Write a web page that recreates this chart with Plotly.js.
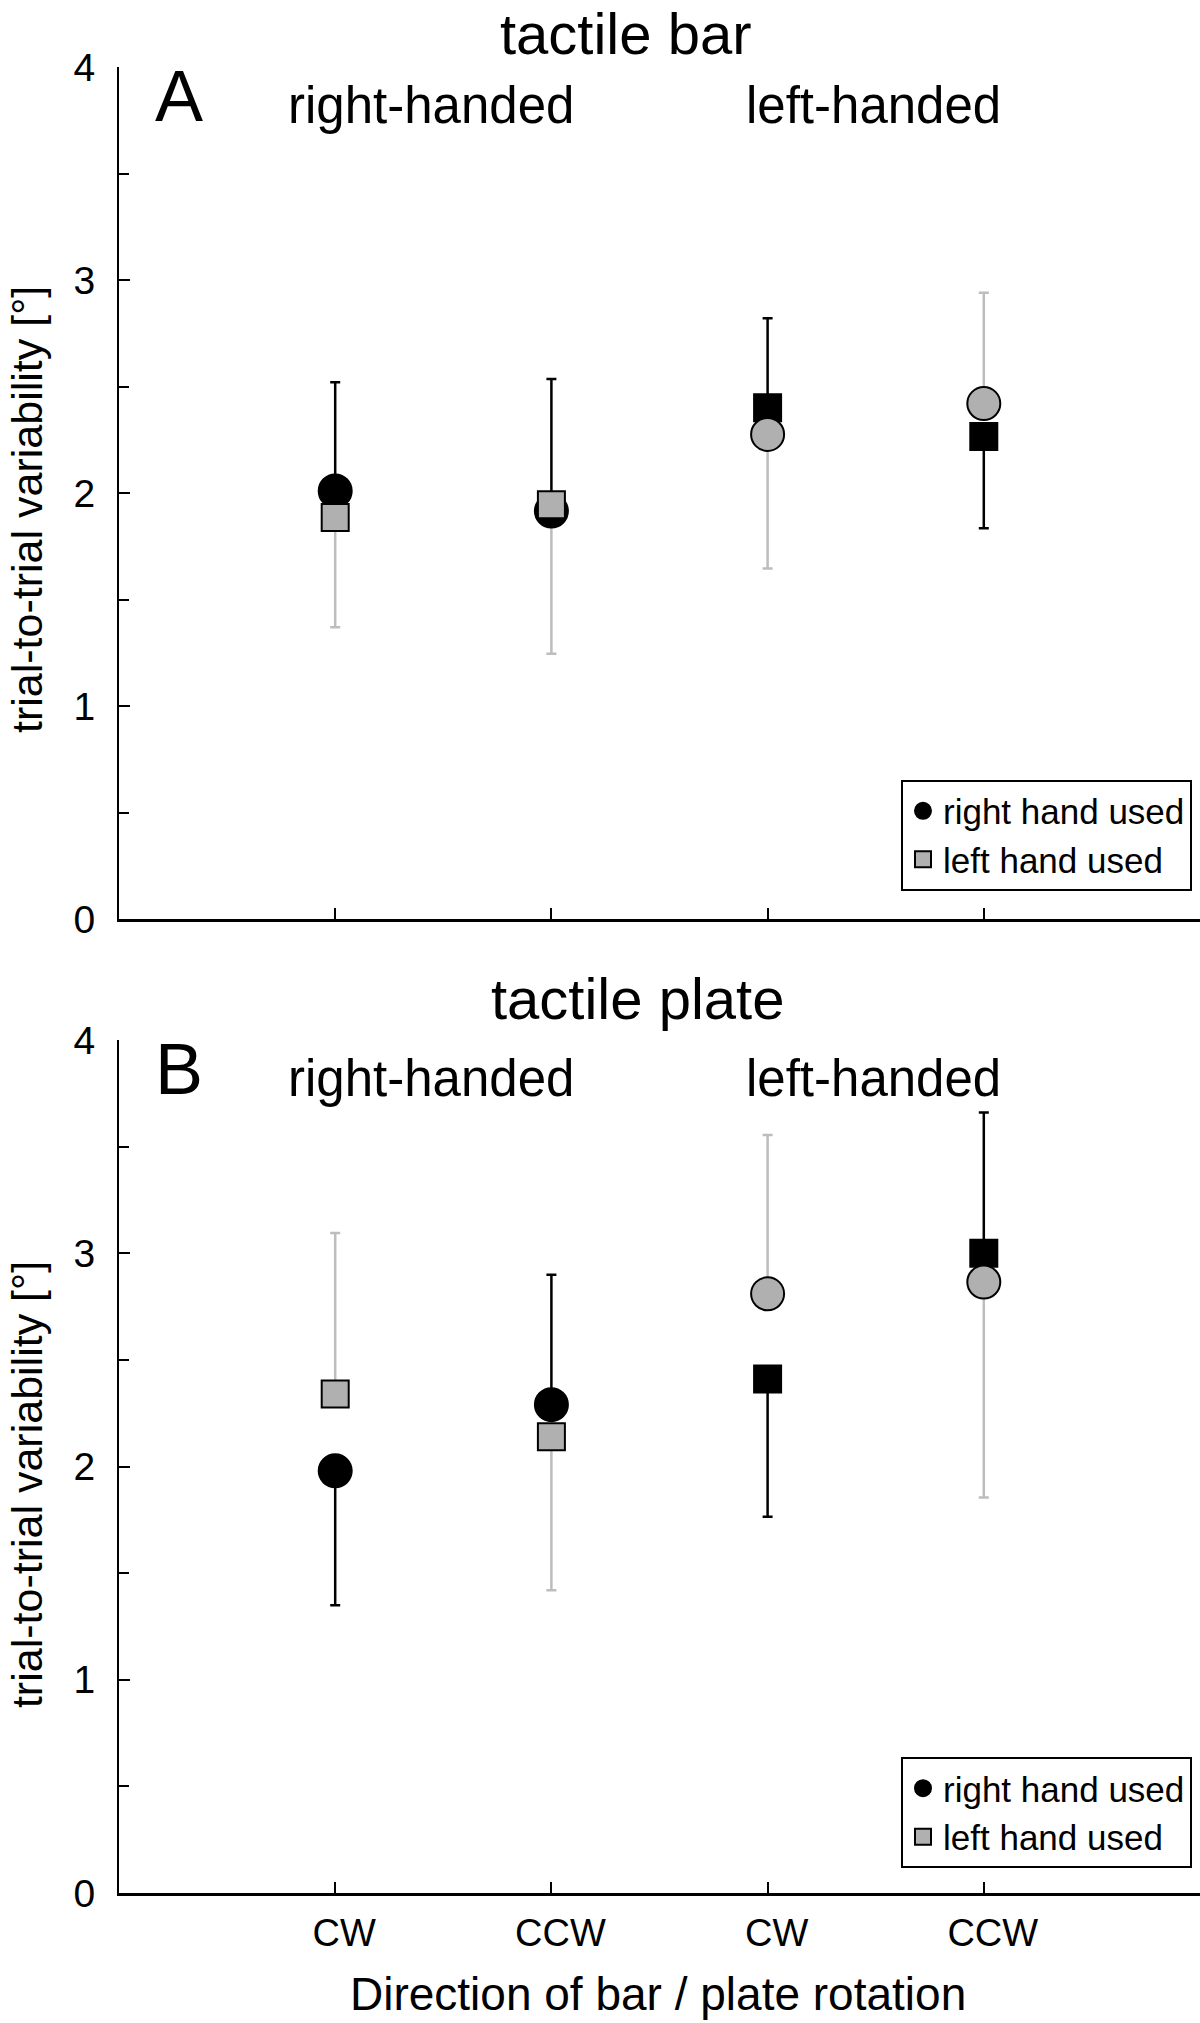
<!DOCTYPE html>
<html>
<head>
<meta charset="utf-8">
<script src="https://cdn.plot.ly/plotly-3.0.1.min.js"></script>
<style>
  body { margin: 0; background: #fff; }
  #chart { width: 1200px; height: 2023px; }
</style>
</head>
<body>
<div id="chart"></div>
<script>
// Positions on the x axis and the tick labels
let xPos = [1, 2, 3, 4];
let directions = ["CW", "CCW", "CW", "CCW"];

// Marker shape of each point (black series / grey series)
let blackSymbols = ["circle", "circle", "square", "square"];
let greySymbols = ["square", "square", "circle", "circle"];

// Panel A - tactile bar
let barBlack = [2.01, 1.915, 2.40, 2.265];
let barBlackUp = [0.51, 0.62, 0.42, 0];
let barBlackDown = [0, 0, 0, 0.43];
let barGrey = [1.885, 1.945, 2.275, 2.42];
let barGreyUp = [0, 0, 0, 0.52];
let barGreyDown = [0.515, 0.70, 0.63, 0];

// Panel B - tactile plate
let plateBlack = [1.98, 2.29, 2.41, 3.00];
let plateBlackUp = [0, 0.61, 0, 0.66];
let plateBlackDown = [0.63, 0, 0.645, 0];
let plateGrey = [2.34, 2.14, 2.81, 2.865];
let plateGreyUp = [0.755, 0, 0.745, 0];
let plateGreyDown = [0, 0.72, 0, 1.01];

const FONT = "Liberation Sans, Arial, sans-serif";
const GREY = "#b0b0b0";
const GREY_ERR = "#bdbdbd";

function sizesFor(symbols) {
    // circles are drawn a bit larger than squares
    return symbols.map(s => s == "circle" ? 33 : 27);
}

function panelTraces(black, blackUp, blackDown, grey, greyUp, greyDown, xa, ya, legendName) {
    // grey error bars first so they sit under everything
    let greyErrors = {
        x: xPos, y: grey, xaxis: xa, yaxis: ya,
        mode: "markers", showlegend: false, hoverinfo: "skip",
        marker: { opacity: 0, size: 1 },
        error_y: { type: "data", symmetric: false, array: greyUp, arrayminus: greyDown,
                   color: GREY_ERR, thickness: 2.5, width: 5 }
    };
    let blackPts = {
        x: xPos, y: black, xaxis: xa, yaxis: ya, legend: legendName,
        mode: "markers", name: "right hand used",
        marker: { symbol: blackSymbols, size: sizesFor(blackSymbols), color: "black", opacity: 1,
                  line: { color: "black", width: 2 } },
        error_y: { type: "data", symmetric: false, array: blackUp, arrayminus: blackDown,
                   color: "black", thickness: 2.5, width: 5 }
    };
    let greyPts = {
        x: xPos, y: grey, xaxis: xa, yaxis: ya, legend: legendName,
        mode: "markers", name: "left hand used",
        marker: { symbol: greySymbols, size: sizesFor(greySymbols), color: GREY, opacity: 1,
                  line: { color: "black", width: 2 } }
    };
    return [greyErrors, blackPts, greyPts];
}

function xAxis(anchor, labels) {
    return {
        anchor: anchor, domain: [0, 1], range: [0, 5],
        tickmode: "array", tickvals: xPos, ticktext: directions,
        showticklabels: labels, ticks: "inside", ticklen: 11, tickwidth: 2, tickcolor: "black",
        ticklabelstandoff: 4, ticklabelshift: 9,
        tickfont: { family: FONT, size: 38, color: "black" },
        showline: true, linecolor: "black", linewidth: 3,
        showgrid: false, zeroline: false, fixedrange: true
    };
}

function yAxis(anchor, domain) {
    return {
        anchor: anchor, domain: domain, range: [0, 4],
        tickmode: "linear", tick0: 0, dtick: 1,
        ticks: "inside", ticklen: 11, tickwidth: 2, tickcolor: "black",
        minor: { dtick: 0.5, ticks: "inside", ticklen: 10, tickwidth: 2, tickcolor: "black", showgrid: false },
        ticklabelstandoff: 14,
        tickfont: { family: FONT, size: 39, color: "black" },
        showline: true, linecolor: "black", linewidth: 2,
        showgrid: false, zeroline: false, fixedrange: true
    };
}

function legendBox(y) {
    return {
        x: 0.9926, y: y, xanchor: "right", yanchor: "bottom",
        bgcolor: "white", bordercolor: "black", borderwidth: 2,
        font: { family: FONT, size: 35, color: "black" },
        tracegroupgap: 0, itemwidth: 30
    };
}

function label(text, x, y, size, angle) {
    return {
        text: text, x: x, y: y, xref: "paper", yref: "paper",
        xanchor: "center", yanchor: "middle", showarrow: false,
        textangle: angle || 0,
        font: { family: FONT, size: size, color: "black" }
    };
}

function drawChart() {
    let traces = panelTraces(barBlack, barBlackUp, barBlackDown, barGrey, barGreyUp, barGreyDown, "x", "y", "legend")
        .concat(panelTraces(plateBlack, plateBlackUp, plateBlackDown, plateGrey, plateGreyUp, plateGreyDown, "x2", "y2", "legend2"));

    let layout = {
        width: 1200, height: 2023,
        margin: { l: 119, r: 0, t: 67, b: 130 },
        paper_bgcolor: "white", plot_bgcolor: "white",
        showlegend: true,
        xaxis: xAxis("y", false),
        yaxis: yAxis("x", [0.5334, 1]),
        xaxis2: xAxis("y2", true),
        yaxis2: yAxis("x2", [0, 0.4671]),
        legend: legendBox(0.549),
        legend2: legendBox(0.0137),
        annotations: [
            label("tactile bar", 0.469, 1.0181, 58),
            label("A", 0.0555, 0.9841, 72),
            label("right-handed", 0.2886, 0.9787, 51),
            label("left-handed", 0.698, 0.9787, 51),
            label("trial-to-trial variability [°]", -0.0851, 0.7574, 43, -90),
            label("tactile plate", 0.480, 0.4896, 58),
            label("B", 0.0555, 0.4513, 72),
            label("right-handed", 0.2886, 0.4458, 51),
            label("left-handed", 0.698, 0.4458, 51),
            label("trial-to-trial variability [°]", -0.0851, 0.2234, 43, -90),
            label("Direction of bar / plate rotation", 0.4986, -0.0553, 46)
        ]
    };

    Plotly.newPlot("chart", traces, layout, { displayModeBar: false, staticPlot: true });
}

drawChart();
</script>
</body>
</html>
